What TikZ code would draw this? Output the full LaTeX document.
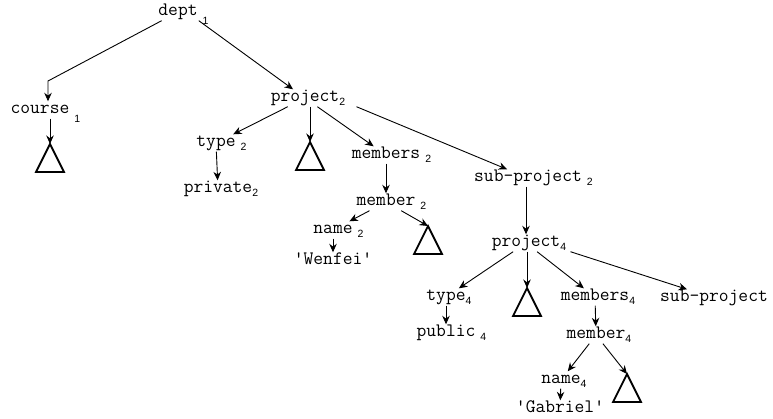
\documentclass[tikz,border=0pt]{standalone}
\usepackage{fontspec}
\usetikzlibrary{arrows.meta}
\newfontfamily\subfont{Liberation Sans}
\newcommand{\sub}[1]{\rlap{\raisebox{-4pt}{\subfont\fontsize{10.5}{10}\selectfont #1}}}
\newcommand{\subs}[1]{\rlap{\hspace{5pt}\raisebox{-4pt}{\subfont\fontsize{10.5}{10}\selectfont #1}}}
\newcommand{\subl}[1]{\rlap{\hspace{5pt}\raisebox{-9pt}{\subfont\fontsize{10.5}{10}\selectfont #1}}}
\newcommand{\qt}{\textquotesingle}
\tikzset{>={Stealth[length=8.5pt,width=7.5pt]}}

\begin{document}
\begin{tikzpicture}[x=1pt,y=-1pt,
  lbl/.style={font=\ttfamily\fontsize{19}{20}\selectfont, inner sep=1pt,
    text height=11pt, text depth=4pt, yshift=-2pt},
  arr/.style={->, line width=0.9pt},
  subtree/.style={line width=1.8pt, line join=miter}]
\useasboundingbox (0,0) rectangle (773,418);

% labels
\node[lbl] (dept) at (178,10) {dept\subl{1}};
\node[lbl] (course) at (40,108) {course\subl{1}};
\node[lbl] (proj2) at (305,96) {project\sub{2}};
\node[lbl] (type2) at (216,141) {type\subs{2}};
\node[lbl] (priv2) at (218,187) {private\sub{2}};
\node[lbl] (mems2) at (386,153) {members\subs{2}};
\node[lbl] (mem2) at (386,200) {member\subs{2}};
\node[lbl] (name2) at (333,228) {name\subs{2}};
\node[lbl] (wenfei) at (333,259) {\qt Wenfei\qt};
\node[lbl] (subproj2) at (528,176) {sub-project\subs{2}};
\node[lbl] (proj4) at (526,241) {project\sub{4}};
\node[lbl] (type4) at (446,295) {type\sub{4}};
\node[lbl] (pub4) at (446,331) {public\subs{4}};
\node[lbl] (mems4) at (595,295) {members\sub{4}};
\node[lbl] (mem4) at (596,333) {member\sub{4}};
\node[lbl] (name4) at (561,378) {name\sub{4}};
\node[lbl] (gabriel) at (560,407) {\qt Gabriel\qt};
\node[lbl] (subproj) at (714,296) {sub-project};

% subtrees
\coordinate (t1) at (50,144);
\coordinate (t2) at (310,142);
\coordinate (t3) at (428,226);
\coordinate (t4) at (527,288);
\coordinate (t5) at (627,374);
\foreach \t in {t1,t2,t3,t4,t5}
  \draw[subtree] (\t) -- ++(-14,28) -- ++(28,0) -- cycle;

% edges
\coordinate (bend) at (48,81);
\draw[arr] (dept) -- (bend) -- (bend |- course.north);
\draw[arr] (dept.south east) -- (proj2);
\draw[arr] (course.south -| t1) -- (t1);
\draw[arr] (proj2) -- (type2);
\draw[arr] (type2) -- (priv2);
\draw[arr] (proj2.south -| t2) -- (t2);
\draw[arr] (proj2) -- (mems2);
\draw[arr] (mems2) -- (mem2);
\draw[arr] (mem2) -- (name2);
\draw[arr] (name2) -- (wenfei);
\draw[arr] (mem2) -- (t3);
\draw[arr] ([xshift=16pt]proj2.south east) -- (subproj2);
\draw[arr] (subproj2.south -| proj4) -- (proj4);
\draw[arr] (proj4) -- (type4);
\draw[arr] (type4) -- (pub4);
\draw[arr] (proj4.south -| t4) -- (t4);
\draw[arr] (proj4) -- (mems4);
\draw[arr] ([xshift=9pt]proj4.south east) -- (subproj);
\draw[arr] (mems4) -- (mem4);
\draw[arr] (mem4) -- (name4);
\draw[arr] (name4) -- (gabriel);
\draw[arr] (mem4) -- (t5);
\end{tikzpicture}
\end{document}
